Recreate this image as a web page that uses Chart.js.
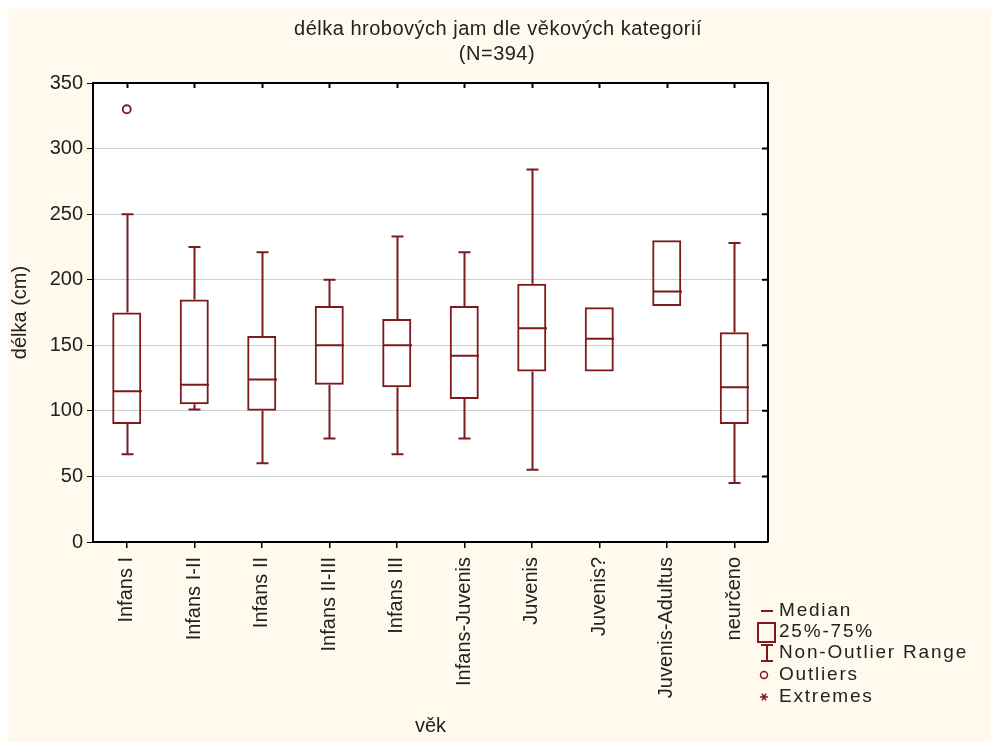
<!DOCTYPE html>
<html>
<head>
<meta charset="utf-8">
<script src="https://cdn.jsdelivr.net/npm/chart.js@4.4.1/dist/chart.umd.min.js"></script>
<style>
  html, body { margin: 0; padding: 0; background: #ffffff; }
  #wrap { width: 991px; height: 742px; }
</style>
</head>
<body>
<div id="wrap"><canvas id="boxChart" width="991" height="742"></canvas></div>
<script>
// data
const categories = ["Infans I", "Infans I-II", "Infans II", "Infans II-III", "Infans III",
  "Infans-Juvenis", "Juvenis", "Juvenis?", "Juvenis-Adultus", "neurčeno"];
const whiskerLow  = [67, 101, 60, 79, 67, 79, 55, null, null, 45];
const q1          = [90, 105, 100, 120, 118, 109, 130, 130, 180, 90];
const median      = [115, 120, 124, 150, 150, 142, 163, 155, 191, 118];
const q3          = [175, 185, 157, 180, 170, 180, 197, 179, 230, 160];
const whiskerHigh = [250, 225, 221, 200, 233, 221, 284, null, null, 228];
const outliers    = [330, null, null, null, null, null, null, null, null, null];
const yTicks = [0, 50, 100, 150, 200, 250, 300, 350];
const titleLines = ["délka hrobových jam dle věkových kategorií", "(N=394)"];
const legendItems = ["Median", "25%-75%", "Non-Outlier Range", "Outliers", "Extremes"];

const red = "#7d1a1d";
const cream = "#fff9ee";
const fontFam = "'Liberation Sans', Arial, sans-serif";

// background, plot area, title
const backdrop = {
  id: "backdrop",
  beforeDraw(chart) {
    const ctx = chart.ctx, a = chart.chartArea;
    ctx.save();
    ctx.fillStyle = "#ffffff";
    ctx.fillRect(0, 0, chart.width, chart.height);
    ctx.fillStyle = cream;
    ctx.fillRect(8, 9, chart.width - 8, chart.height - 9);
    ctx.fillStyle = "#ffffff";
    ctx.fillRect(a.left, a.top, a.right - a.left, a.bottom - a.top);
    ctx.fillStyle = "#222";
    ctx.font = "20px " + fontFam;
    ctx.letterSpacing = "0.5px";
    ctx.textAlign = "center";
    ctx.textBaseline = "middle";
    ctx.fillText(titleLines[0], 498, 29);
    ctx.fillText(titleLines[1], 497, 54);
    ctx.restore();
  }
};

// whiskers, medians, frame, legend
const boxParts = {
  id: "boxParts",
  afterDatasetsDraw(chart) {
    const ctx = chart.ctx;
    const x = chart.scales.x, y = chart.scales.y;
    const bars = chart.getDatasetMeta(0).data;
    ctx.save();
    ctx.strokeStyle = red;
    ctx.lineWidth = 2;
    categories.forEach((c, i) => {
      const cx = Math.round(x.getPixelForValue(i)) + 0.5;
      const half = bars[i].width / 2;
      ctx.beginPath();
      ctx.moveTo(cx - half, y.getPixelForValue(median[i]));
      ctx.lineTo(cx + half, y.getPixelForValue(median[i]));
      if (whiskerHigh[i] != null) {
        ctx.moveTo(cx, y.getPixelForValue(q3[i]));
        ctx.lineTo(cx, y.getPixelForValue(whiskerHigh[i]));
        ctx.moveTo(cx - 6, y.getPixelForValue(whiskerHigh[i]));
        ctx.lineTo(cx + 6, y.getPixelForValue(whiskerHigh[i]));
      }
      if (whiskerLow[i] != null) {
        ctx.moveTo(cx, y.getPixelForValue(q1[i]));
        ctx.lineTo(cx, y.getPixelForValue(whiskerLow[i]));
        ctx.moveTo(cx - 6, y.getPixelForValue(whiskerLow[i]));
        ctx.lineTo(cx + 6, y.getPixelForValue(whiskerLow[i]));
      }
      ctx.stroke();
    });
    ctx.restore();
  },
  afterDraw(chart) {
    const ctx = chart.ctx, a = chart.chartArea;
    const x = chart.scales.x, y = chart.scales.y;
    ctx.save();
    // top and right frame with inner ticks
    ctx.strokeStyle = "#000";
    ctx.lineWidth = 2;
    ctx.beginPath();
    ctx.moveTo(a.left, a.top);
    ctx.lineTo(a.right, a.top);
    ctx.lineTo(a.right, a.bottom);
    categories.forEach((c, i) => {
      const px = Math.round(x.getPixelForValue(i)) + 0.5;
      ctx.moveTo(px, a.top);
      ctx.lineTo(px, a.top + 5);
    });
    yTicks.forEach(v => {
      const py = y.getPixelForValue(v);
      ctx.moveTo(a.right, py);
      ctx.lineTo(a.right - 6, py);
    });
    ctx.stroke();

    // legend
    const lx = 766, rows = [611, 632, 653, 675, 697];
    ctx.strokeStyle = red;
    ctx.lineWidth = 2;
    ctx.beginPath();
    ctx.moveTo(lx - 5, rows[0]); ctx.lineTo(lx + 7, rows[0]);
    ctx.rect(lx - 8, rows[1] - 9, 17, 19);
    ctx.moveTo(lx + 1, rows[2] - 8); ctx.lineTo(lx + 1, rows[2] + 8);
    ctx.moveTo(lx - 5, rows[2] - 8); ctx.lineTo(lx + 7, rows[2] - 8);
    ctx.moveTo(lx - 5, rows[2] + 8); ctx.lineTo(lx + 7, rows[2] + 8);
    ctx.stroke();
    ctx.lineWidth = 1.5;
    ctx.beginPath();
    ctx.arc(lx - 2, rows[3], 3.5, 0, Math.PI * 2);
    ctx.stroke();
    ctx.beginPath();
    [0, 60, 120].forEach(d => {
      const r = d * Math.PI / 180;
      ctx.moveTo(lx - 2 - 4 * Math.cos(r), rows[4] - 4 * Math.sin(r));
      ctx.lineTo(lx - 2 + 4 * Math.cos(r), rows[4] + 4 * Math.sin(r));
    });
    ctx.stroke();
    ctx.fillStyle = "#222";
    ctx.font = "19px " + fontFam;
    ctx.letterSpacing = "1.8px";
    ctx.textAlign = "left";
    ctx.textBaseline = "middle";
    legendItems.forEach((t, i) => ctx.fillText(t, 779, rows[i]));
    ctx.restore();
  }
};

const chart = new Chart(document.getElementById("boxChart"), {
  data: {
    labels: categories,
    datasets: [
      {
        type: "bar",
        data: categories.map((c, i) => [q1[i], q3[i]]),
        backgroundColor: "rgba(0,0,0,0)",
        borderColor: red,
        borderWidth: 2,
        borderSkipped: false,
        categoryPercentage: 1,
        barPercentage: 0.43
      },
      {
        type: "line",
        data: outliers,
        showLine: false,
        pointStyle: "circle",
        pointRadius: 4,
        pointBorderWidth: 1.8,
        pointBorderColor: red,
        pointBackgroundColor: "#ffffff"
      }
    ]
  },
  options: {
    responsive: false,
    animation: false,
    events: [],
    layout: { padding: { top: 83, right: 223, left: 0, bottom: 0 } },
    plugins: {
      legend: { display: false },
      title: { display: false },
      tooltip: { enabled: false }
    },
    scales: {
      x: {
        type: "category",
        offset: true,
        afterFit: s => { s.height = 200; },
        border: { color: "#000", width: 2 },
        grid: { offset: false, drawOnChartArea: false, tickColor: "#000", tickLength: 6, lineWidth: 1.5 },
        ticks: {
          minRotation: 90, maxRotation: 90, autoSkip: false, padding: 9,
          color: "#222", font: { family: fontFam, size: 20 }
        },
        title: {
          display: true, text: "věk", color: "#222",
          font: { family: fontFam, size: 20 }, padding: { top: 0, bottom: 4 }
        }
      },
      y: {
        min: 0, max: 350,
        afterFit: s => { s.width = 93; },
        border: { color: "#000", width: 2 },
        grid: { color: "#cfcfcf", lineWidth: 1, tickColor: "#000", tickLength: 6 },
        ticks: {
          stepSize: 50, padding: 4,
          color: "#222", font: { family: fontFam, size: 20 }
        },
        title: {
          display: true, text: "délka (cm)", color: "#222",
          font: { family: fontFam, size: 20 }, padding: { top: 8, bottom: 0 }
        }
      }
    }
  },
  plugins: [backdrop, boxParts]
});
</script>
</body>
</html>
